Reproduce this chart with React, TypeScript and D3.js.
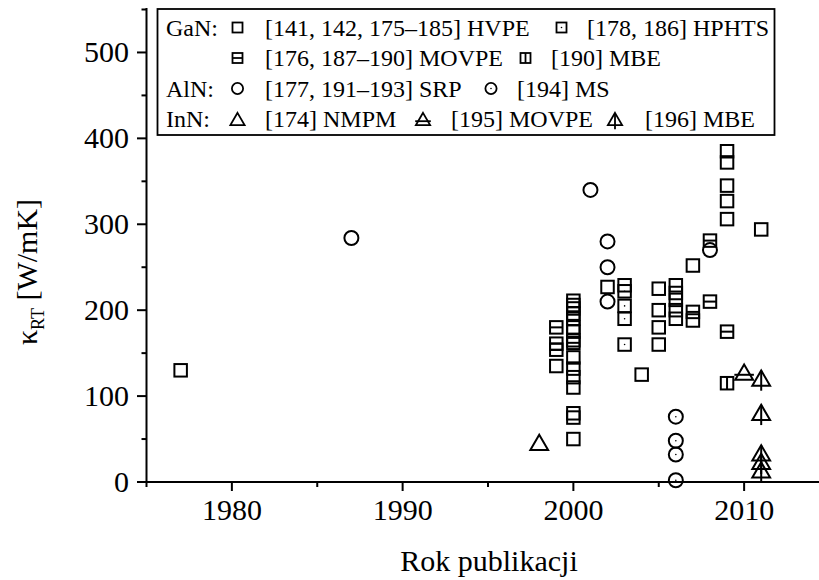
import React from "react";
import * as d3 from "d3";

// ---- data (year, κ_RT [W/mK]) ----
const ganHVPE: [number, number][] = [
  [1977, 130], [1999, 135],
  [2000, 211], [2000, 206], [2000, 202], [2000, 196], [2000, 190], [2000, 180], [2000, 175],
  [2000, 165], [2000, 145], [2000, 132], [2000, 122], [2000, 110], [2000, 80], [2000, 75], [2000, 50],
  [2002, 227], [2004, 125],
  [2005, 225], [2005, 200], [2005, 180], [2005, 160],
  [2006, 229], [2006, 220], [2006, 212], [2006, 200], [2006, 190],
  [2007, 252], [2007, 188],
  [2009, 385], [2009, 372], [2009, 345], [2009, 327], [2009, 306],
  [2011, 294],
];
const ganHPHTS: [number, number][] = [[2003, 229], [2003, 222], [2003, 205], [2003, 190], [2003, 160]];
const ganMOVPE: [number, number][] = [[1999, 180], [1999, 161], [1999, 154], [2000, 162], [2007, 198], [2008, 281], [2008, 210], [2009, 175]];
const ganMBE: [number, number][] = [[2009, 115]];
const alnSRP: [number, number][] = [[1987, 284], [2001, 340], [2002, 280], [2002, 250], [2002, 210], [2008, 270]];
const alnMS: [number, number][] = [[2006, 76], [2006, 48], [2006, 32], [2006, 2]];
const innNMPM: [number, number][] = [[1998, 46]];
const innMOVPE: [number, number][] = [[2010, 128]];
const innMBE: [number, number][] = [[2011, 121], [2011, 81], [2011, 34], [2011, 24], [2011, 14]];

const xMajor = [1980, 1990, 2000, 2010];
const xMinor = [1975, 1985, 1995, 2005, 2015];
const yMajor = [0, 100, 200, 300, 400, 500];
const yMinor = [50, 150, 250, 350, 450, 550];

const xTitle = "Rok publikacji";

type Kind = "sq" | "sqDot" | "sqH" | "sqV" | "ci" | "ciDot" | "tri" | "triH" | "triV";

const FONT = "'Liberation Serif', 'Times New Roman', serif";

function Marker({ kind, cx, cy, s }: { kind: Kind; cx: number; cy: number; s: number }) {
  const sw = s > 11 ? 2 : 1.8;
  const common = { fill: "none", stroke: "#000", strokeWidth: sw };
  if (kind.startsWith("sq")) {
    const h = s / 2;
    return (
      <g>
        <rect x={cx - h} y={cy - h} width={s} height={s} {...common} />
        {kind === "sqDot" && <circle cx={cx} cy={cy} r={0.8} fill="#000" />}
        {kind === "sqH" && <line x1={cx - h} x2={cx + h} y1={cy} y2={cy} {...common} />}
        {kind === "sqV" && <line x1={cx} x2={cx} y1={cy - h} y2={cy + h} {...common} />}
      </g>
    );
  }
  if (kind.startsWith("ci")) {
    const r = (s * 1.12) / 2;
    return (
      <g>
        <circle cx={cx} cy={cy} r={r} {...common} />
        {kind === "ciDot" && <circle cx={cx} cy={cy} r={0.8} fill="#000" />}
      </g>
    );
  }
  const w = s * 1.42;
  const th = s * 1.22;
  const top = cy - th / 2;
  const bot = cy + th / 2;
  const p = `M${cx},${top}L${cx + w / 2},${bot}L${cx - w / 2},${bot}Z`;
  return (
    <g>
      <path d={p} {...common} strokeLinejoin="miter" />
      {kind === "triH" && (
        <line x1={cx - w * 0.55} x2={cx + w * 0.55} y1={top + th * 0.68} y2={top + th * 0.68} {...common} />
      )}
      {kind === "triV" && <line x1={cx} x2={cx} y1={top} y2={bot + th * 0.33} {...common} />}
    </g>
  );
}

export default function App() {
  const x = d3.scaleLinear().domain([1975, 2015]).range([146.5, 829.5]);
  const y = d3.scaleLinear().domain([0, 550]).range([482, 9.5]);
  const S = 12.5;

  const series: { data: [number, number][]; kind: Kind }[] = [
    { data: ganHVPE, kind: "sq" },
    { data: ganHPHTS, kind: "sqDot" },
    { data: ganMOVPE, kind: "sqH" },
    { data: ganMBE, kind: "sqV" },
    { data: alnSRP, kind: "ci" },
    { data: alnMS, kind: "ciDot" },
    { data: innNMPM, kind: "tri" },
    { data: innMOVPE, kind: "triH" },
    { data: innMBE, kind: "triV" },
  ];

  const rows = [27.5, 58, 88.5, 119];
  const legendItems: { kind: Kind; mx: number; tx: number; row: number; label: string }[] = [
    { kind: "sq", mx: 237.5, tx: 265, row: 0, label: "[141, 142, 175–185] HVPE" },
    { kind: "sqDot", mx: 561.5, tx: 587, row: 0, label: "[178, 186] HPHTS" },
    { kind: "sqH", mx: 237.5, tx: 265, row: 1, label: "[176, 187–190] MOVPE" },
    { kind: "sqV", mx: 525.5, tx: 551, row: 1, label: "[190] MBE" },
    { kind: "ci", mx: 237.5, tx: 265, row: 2, label: "[177, 191–193] SRP" },
    { kind: "ciDot", mx: 491, tx: 517, row: 2, label: "[194] MS" },
    { kind: "tri", mx: 237.5, tx: 265, row: 3, label: "[174] NMPM" },
    { kind: "triH", mx: 423, tx: 451, row: 3, label: "[195] MOVPE" },
    { kind: "triV", mx: 615, tx: 645, row: 3, label: "[196] MBE" },
  ];
  const groupLabels = [
    { row: 0, t: "GaN:" },
    { row: 2, t: "AlN:" },
    { row: 3, t: "InN:" },
  ];

  const x0 = x.range()[0];
  const y0 = y(0);

  return (
    <svg
      width={819}
      height={580}
      style={{ position: "absolute", left: 0, top: 0, background: "#fff" }}
      fontFamily={FONT}
    >
      <rect x={0} y={0} width={819} height={580} fill="#fff" />
      {/* markers */}
      {series.map((s, i) => (
        <g key={i}>
          {s.data.map(([yr, v], j) => (
            <Marker key={j} kind={s.kind} cx={x(yr)} cy={y(v)} s={S} />
          ))}
        </g>
      ))}
      {/* axes */}
      <line x1={x0} x2={x0} y1={8} y2={y0 + 1} stroke="#000" strokeWidth={2} />
      <line x1={x0 - 1} x2={819} y1={y0} y2={y0} stroke="#000" strokeWidth={2} />
      {xMajor.map((t) => (
        <g key={t}>
          <line x1={x(t)} x2={x(t)} y1={y0} y2={y0 + 9} stroke="#000" strokeWidth={2} />
          <text x={x(t)} y={520} fontSize={30} textAnchor="middle">
            {t}
          </text>
        </g>
      ))}
      {xMinor.map((t) => (
        <line key={t} x1={x(t)} x2={x(t)} y1={y0} y2={y0 + 5} stroke="#000" strokeWidth={2} />
      ))}
      {yMajor.map((t) => (
        <g key={t}>
          <line x1={x0 - 9.5} x2={x0} y1={y(t)} y2={y(t)} stroke="#000" strokeWidth={2} />
          <text x={129} y={y(t) + 10} fontSize={30} textAnchor="end">
            {t}
          </text>
        </g>
      ))}
      {yMinor.map((t) => (
        <line key={t} x1={x0 - 5} x2={x0} y1={y(t)} y2={y(t)} stroke="#000" strokeWidth={2} />
      ))}
      {/* axis titles */}
      <text x={489} y={571} fontSize={30} textAnchor="middle">
        {xTitle}
      </text>
      <text transform="translate(37,272) rotate(-90)" fontSize={30} textAnchor="middle">
        <tspan>κ</tspan>
        <tspan fontSize={18} dy={7}>RT</tspan>
        <tspan dy={-7}> [W/mK]</tspan>
      </text>
      {/* legend */}
      <rect x={157.5} y={9} width={617} height={126} fill="#fff" stroke="#000" strokeWidth={1.8} />
      {groupLabels.map((g) => (
        <text key={g.t} x={166} y={rows[g.row] + 8} fontSize={24}>
          {g.t}
        </text>
      ))}
      {legendItems.map((it, i) => (
        <g key={i}>
          <Marker kind={it.kind} cx={it.mx} cy={rows[it.row]} s={10} />
          <text x={it.tx} y={rows[it.row] + 8} fontSize={24}>
            {it.label}
          </text>
        </g>
      ))}
    </svg>
  );
}
